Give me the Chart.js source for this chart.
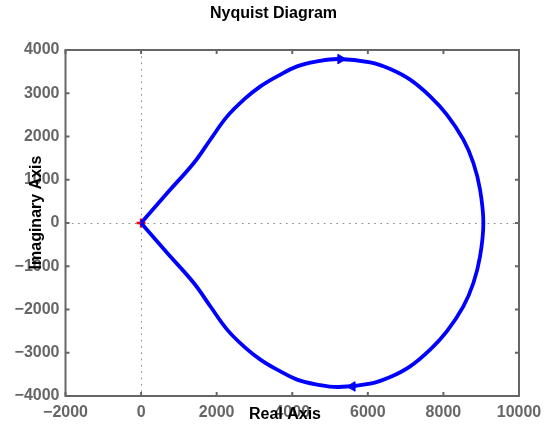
<!DOCTYPE html>
<html>
<head>
<meta charset="utf-8">
<script src="https://cdn.jsdelivr.net/npm/chart.js@4"></script>
<style>
  html, body { margin: 0; padding: 0; background: #ffffff; }
  #wrap { width: 544px; height: 427px; }
</style>
</head>
<body>
<div id="wrap"><canvas id="nyq" width="544" height="427"></canvas></div>
<script>
// Nyquist locus: origin -> upper branch (w > 0) -> far real crossing -> lower branch -> origin
const realPart = [
  0, 692, 1395, 1836, 2277, 2716, 3157, 3598, 4127, 4655, 5226,
  6063, 6592, 7120, 7649, 8090, 8528, 8793, 8970, 9057,
  8970, 8793, 8528, 8090, 7649, 7120, 6592, 6063, 5226,
  4655, 4127, 3598, 3157, 2716, 2277, 1836, 1395, 692, 0
];
const imagPart = [
  0, 694, 1387, 1931, 2465, 2851, 3158, 3390, 3621, 3736, 3792,
  3713, 3561, 3314, 2927, 2504, 1926, 1387, 770, 0,
  -770, -1387, -1926, -2504, -2927, -3314, -3561, -3713, -3792,
  -3736, -3621, -3390, -3158, -2851, -2465, -1931, -1387, -694, 0
];

// Direction arrows on the locus
const arrowReal = [5280, 5590];
const arrowImag = [3790, -3780];
const arrowAngle = [90, -90];

// Critical point marker
const criticalReal = [-1];
const criticalImag = [0];

// Axis ticks
const xTicks = [-2000, 0, 2000, 4000, 6000, 8000, 10000];
const yTicks = [-4000, -3000, -2000, -1000, 0, 1000, 2000, 3000, 4000];

const titleText = 'Nyquist Diagram';
const xTitle = 'Real Axis';
const yTitle = 'Imaginary Axis';

const FONT = '"Liberation Sans", Arial, Helvetica, sans-serif';
const AXIS_GREY = '#666666';

function fmt(v) {
  return v < 0 ? '\u2212' + Math.abs(v) : String(v);
}

// Frame, inward ticks, zero reference lines and text annotations
const matlabAxes = {
  id: 'matlabAxes',
  beforeDatasetsDraw(chart) {
    const { ctx, chartArea: a, scales: { x, y } } = chart;
    ctx.save();
    ctx.strokeStyle = '#8a8a8a';
    ctx.lineWidth = 1;
    ctx.setLineDash([1.6, 4.7]);
    const x0 = Math.round(x.getPixelForValue(0)) + 0.5;
    const y0 = Math.round(y.getPixelForValue(0)) + 0.5;
    ctx.beginPath();
    ctx.moveTo(a.left, y0); ctx.lineTo(a.right, y0);
    ctx.moveTo(x0, a.top); ctx.lineTo(x0, a.bottom);
    ctx.stroke();
    ctx.restore();
  },
  afterDatasetsDraw(chart) {
    const { ctx, chartArea: a, scales: { x, y } } = chart;
    ctx.save();
    ctx.strokeStyle = AXIS_GREY;
    ctx.lineWidth = 2;
    ctx.setLineDash([]);
    ctx.strokeRect(a.left, a.top, a.right - a.left, a.bottom - a.top);
    const tl = 4;
    ctx.beginPath();
    xTicks.forEach(v => {
      const px = x.getPixelForValue(v);
      ctx.moveTo(px, a.bottom); ctx.lineTo(px, a.bottom - tl);
      ctx.moveTo(px, a.top); ctx.lineTo(px, a.top + tl);
    });
    yTicks.forEach(v => {
      const py = y.getPixelForValue(v);
      ctx.moveTo(a.left, py); ctx.lineTo(a.left + tl, py);
      ctx.moveTo(a.right, py); ctx.lineTo(a.right - tl, py);
    });
    ctx.stroke();
    ctx.restore();
  },
  afterDraw(chart) {
    const { ctx } = chart;
    ctx.save();
    ctx.fillStyle = '#000000';
    ctx.font = 'bold 16px ' + FONT;
    ctx.textAlign = 'center';
    ctx.textBaseline = 'alphabetic';
    ctx.fillText(titleText, 273.5, 18);
    ctx.fillText(xTitle, 285, 418.5);
    ctx.translate(41, 212.5);
    ctx.rotate(-Math.PI / 2);
    ctx.fillText(yTitle, 0, 0);
    ctx.restore();
  }
};

const locus = realPart.map((r, i) => ({ x: r, y: imagPart[i] }));
const arrows = arrowReal.map((r, i) => ({ x: r, y: arrowImag[i] }));
const critical = criticalReal.map((r, i) => ({ x: r, y: criticalImag[i] }));

new Chart(document.getElementById('nyq'), {
  type: 'scatter',
  data: {
    datasets: [
      {
        data: arrows,
        pointStyle: 'triangle',
        rotation: arrowAngle,
        pointRadius: 5.5,
        backgroundColor: '#0000ff',
        borderColor: '#0000ff',
        borderWidth: 1,
        order: 0
      },
      {
        data: locus,
        showLine: true,
        borderColor: '#0000ff',
        borderWidth: 3.8,
        pointRadius: 0,
        tension: 0.4,
        fill: false,
        order: 1
      },
      {
        data: critical,
        pointStyle: 'cross',
        pointRadius: 4.5,
        borderColor: '#ff0000',
        borderWidth: 2.5,
        order: 2
      }
    ]
  },
  options: {
    responsive: false,
    animation: false,
    events: [],
    layout: { padding: { top: 50, right: 25, left: 0, bottom: 0 } },
    plugins: { legend: { display: false }, tooltip: { enabled: false }, title: { display: false } },
    scales: {
      x: {
        type: 'linear',
        min: -2000, max: 10000,
        afterBuildTicks: s => { s.ticks = xTicks.map(v => ({ value: v })); },
        afterFit: s => { s.height = 31; s.paddingLeft = 0; s.paddingRight = 0; },
        grid: { display: false, drawTicks: false },
        border: { display: false },
        ticks: {
          color: AXIS_GREY,
          padding: 7,
          maxRotation: 0,
          autoSkip: false,
          font: { family: FONT, size: 16, weight: 'bold' },
          callback: v => fmt(v)
        }
      },
      y: {
        type: 'linear',
        min: -4000, max: 4000,
        afterBuildTicks: s => { s.ticks = yTicks.map(v => ({ value: v })); },
        afterFit: s => { s.width = 65.5; s.paddingTop = 0; s.paddingBottom = 0; },
        grid: { display: false, drawTicks: false },
        border: { display: false },
        ticks: {
          color: AXIS_GREY,
          padding: 6,
          autoSkip: false,
          font: { family: FONT, size: 16, weight: 'bold' },
          callback: v => fmt(v)
        }
      }
    }
  },
  plugins: [matlabAxes]
});
</script>
</body>
</html>
